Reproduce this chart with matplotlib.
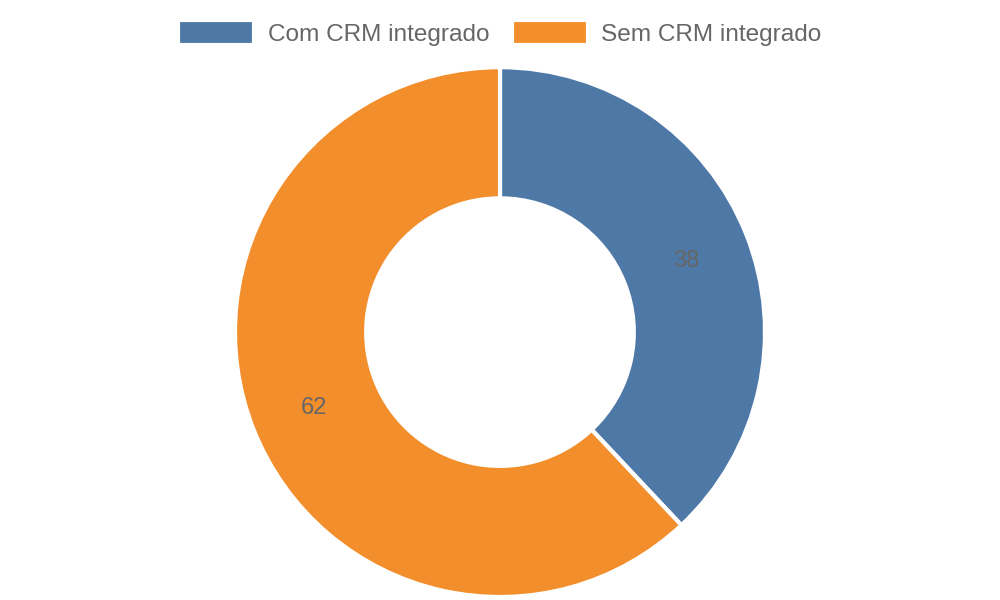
import matplotlib
matplotlib.use('Agg')
import matplotlib.pyplot as plt

plt.rcParams['font.family'] = ['Liberation Sans', 'DejaVu Sans']

labels = ['Com CRM integrado', 'Sem CRM integrado']
values = [38, 62]
colors = ['#4e79a7', '#f28e2b']
text_color = '#666666'

fig = plt.figure(figsize=(10, 6), dpi=100)
ax = fig.add_axes([0.235, 0.005, 0.53, 0.883])

wedges, texts = ax.pie(values, colors=colors, startangle=90, counterclock=False,
                       radius=1, labels=[str(v) for v in values], labeldistance=0.755,
                       wedgeprops=dict(width=0.495, edgecolor='white', linewidth=3),
                       textprops=dict(color=text_color, fontsize=17, ha='center',
                                      va='center_baseline'))
ax.set_xlim(-1.0, 1.0)
ax.set_ylim(-1.0, 1.0)
ax.set_aspect('auto')
ax.axis('off')

fig.legend(wedges, labels, loc='center', bbox_to_anchor=(0.5, 0.945), ncol=2,
           frameon=False, fontsize=17.6, labelcolor=text_color,
           handlelength=3.1, handleheight=1.2, handletextpad=0.55, columnspacing=0.95)

fig.savefig('out.png', dpi=100)
